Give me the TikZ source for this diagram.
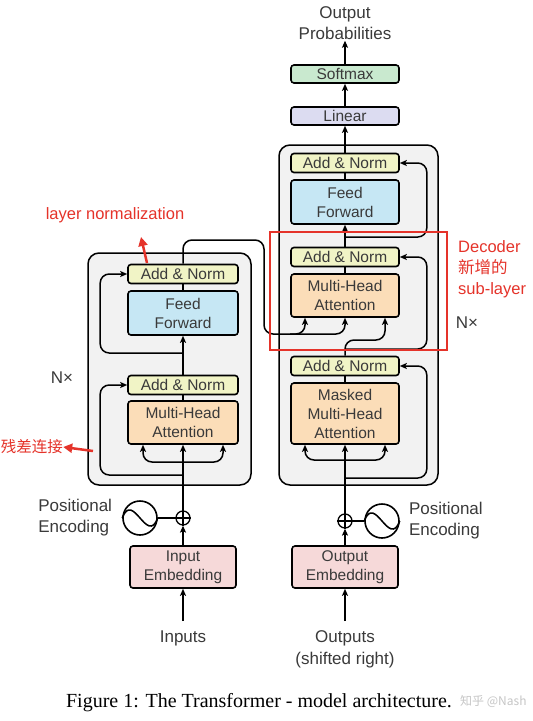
\documentclass[tikz,border=0pt]{standalone}
\usepackage{fontspec}
\setmainfont{Liberation Serif}
\setsansfont{Liberation Sans}
\newfontfamily\cjk{Noto Sans CJK SC}
\usetikzlibrary{arrows.meta,positioning}

\definecolor{normclr}{HTML}{F1F4C6}
\definecolor{ffclr}{HTML}{C6E7F4}
\definecolor{attclr}{HTML}{FBDDB8}
\definecolor{embclr}{HTML}{F6D9D9}
\definecolor{linclr}{HTML}{DCDCF1}
\definecolor{smclr}{HTML}{C9E9CF}
\definecolor{stackclr}{HTML}{F2F2F2}
\definecolor{txtclr}{HTML}{3A3A3A}
\definecolor{annclr}{HTML}{E5332A}

\begin{document}
\begin{tikzpicture}[x=1pt, y=-1pt,
  lyr/.style={draw, line width=1.6pt, rounded corners=3pt, minimum width=110pt,
    inner sep=0pt, align=center, text=txtclr,
    font=\sffamily\fontsize{15.5}{19}\selectfont},
  nrm/.style={lyr, fill=normclr, minimum height=19pt},
  ff/.style={lyr, fill=ffclr, minimum height=44pt},
  att/.style={lyr, fill=attclr, minimum height=43pt},
  emb/.style={lyr, fill=embclr, minimum height=42pt, minimum width=106pt},
  stk/.style={draw, line width=1.5pt, rounded corners=11pt, fill=stackclr},
  pe/.style={circle, draw, line width=1.6pt, minimum size=34pt, inner sep=0pt},
  sum/.style={circle, draw, line width=1.3pt, minimum size=14pt, inner sep=0pt},
  lbl/.style={text=txtclr, align=center, inner sep=1pt,
    font=\sffamily\fontsize{17}{21}\selectfont},
  ln/.style={line width=1.5pt},
  arr/.style={ln, -{Stealth[length=7pt, width=6pt, inset=1.5pt]}},
  fork/.style={ln, rounded corners=9pt,
    {Stealth[length=7pt, width=6pt, inset=1.5pt]}-{Stealth[length=7pt, width=6pt, inset=1.5pt]}},
  res/.style={arr, rounded corners=9pt},
  ann/.style={text=annclr, align=left, inner sep=0pt,
    font=\sffamily\fontsize{16.5}{21}\selectfont},
  annarr/.style={annclr, line width=2.5pt, -{Triangle[length=9pt, width=9pt]}}]

\fill[white] (0,0) rectangle (533,721);
\useasboundingbox (0,0) rectangle (533,721);

% --- Stacks ---
\node[stk, minimum width=163pt, minimum height=232pt] (encStk) at (169.5,369) {};
\node[stk, minimum width=159pt, minimum height=340pt] (decStk) at (358.5,315) {};

% --- Encoder ---
\node[nrm] (encN2) at (183,274) {Add \& Norm};
\node[ff] (encFF) at (183,313) {Feed\\Forward};
\node[nrm] (encN1) at (183,385) {Add \& Norm};
\node[att] (encMHA) at (183,422.5) {Multi-Head\\Attention};
\node[emb] (inEmb) at (183,567) {Input\\Embedding};
\node[pe] (encPE) at (140,518) {};
\node[sum] (encSum) at (183,518) {};
\node[lbl, align=left, left=9pt of encPE] (encPEtxt) {Positional\\Encoding};
\node[lbl] (inTxt) at (183,638) {Inputs};
\node[lbl] (encNx) at (62,378) {N×};

% --- Decoder ---
\node[nrm, minimum width=108pt] (decN3) at (345,163) {Add \& Norm};
\node[ff, minimum width=108pt] (decFF) at (345,202) {Feed\\Forward};
\node[nrm, minimum width=108pt] (decN2) at (345,257) {Add \& Norm};
\node[att, minimum width=108pt] (decMHA) at (345,295.5) {Multi-Head\\Attention};
\node[nrm, minimum width=108pt] (decN1) at (345,366) {Add \& Norm};
\node[att, minimum width=108pt, minimum height=61pt] (decMMHA) at (345,413.5)
  {Masked\\Multi-Head\\Attention};
\node[emb] (outEmb) at (345,567) {Output\\Embedding};
\node[pe] (decPE) at (382,521) {};
\node[sum] (decSum) at (345,521) {};
\node[lbl, align=left, right=8pt of decPE] (decPEtxt) {Positional\\Encoding};
\node[lbl, font=\sffamily\fontsize{17}{22}\selectfont] (outTxt) at (345,649)
  {Outputs\\(shifted right)};
\node[lbl] (decNx) at (467,323) {N×};

% --- Output head ---
\node[lyr, fill=linclr, minimum width=108pt, minimum height=18pt] (linear) at (345,116) {Linear};
\node[lyr, fill=smclr, minimum width=108pt, minimum height=18pt] (softmax) at (345,74) {Softmax};
\node[lbl] (outProb) at (345,23) {Output\\Probabilities};

% --- Sums and sine waves ---
\draw[ln] (encSum.north) -- (encSum.south) (encSum.west) -- (encSum.east);
\draw[ln] (decSum.north) -- (decSum.south) (decSum.west) -- (decSum.east);
\draw[ln] (encPE.west) .. controls +(11,-28) and +(-11,28) .. (encPE.east);
\draw[ln] (decPE.west) .. controls +(11,-28) and +(-11,28) .. (decPE.east);
\draw[ln] (encPE) -- (encSum);
\draw[ln] (decPE) -- (decSum);

% --- Encoder connectors ---
\coordinate (encRes1) at (183,475);
\coordinate (encFork) at (183,462);
\coordinate (encRes2) at (183,353);
\coordinate (encTop) at (183,240);
\coordinate (encDrop) at (264,334);
\coordinate (kvFork) at (290,334);

\draw[arr, shorten <=8pt] (inTxt.north) -- (inEmb.south);
\draw[arr] (inEmb.north) -- (encSum.south);
\draw[arr] (encSum.north) -- (encMHA.south);
\draw[fork] ([xshift=-40pt]encMHA.south) |- (encFork) -| ([xshift=40pt]encMHA.south);
\draw[res] (encRes1) -| ([xshift=-27pt]encN1.west) -- (encN1.west);
\draw[ln] (encMHA.north) -- (encN1.south);
\draw[arr] (encN1.north) -- (encFF.south);
\draw[res] (encRes2) -| ([xshift=-27pt]encN2.west) -- (encN2.west);
\draw[ln] (encFF.north) -- (encN2.south);
\draw[res] (encN2.north) -- (encTop) -| (encDrop) -| (decMHA.south);
\draw[res] (kvFork) -| ([xshift=-40pt]decMHA.south);

% --- Decoder connectors ---
\coordinate (decRes1) at (345,478);
\coordinate (decFork) at (345,460);
\coordinate (decRes2) at (345,349);
\coordinate (qBend) at (345,340);
\coordinate (decRes3) at (345,237);

\draw[arr, shorten <=8pt] (outTxt.north) -- (outEmb.south);
\draw[arr] (outEmb.north) -- (decSum.south);
\draw[arr] (decSum.north) -- (decMMHA.south);
\draw[fork] ([xshift=-40pt]decMMHA.south) |- (decFork) -| ([xshift=40pt]decMMHA.south);
\draw[res] (decRes1) -| ([xshift=27pt]decN1.east) -- (decN1.east);
\draw[ln] (decMMHA.north) -- (decN1.south);
\draw[res] (decN1.north) -- (qBend) -| ([xshift=40pt]decMHA.south);
\draw[res] (decRes2) -| ([xshift=27pt]decN2.east) -- (decN2.east);
\draw[ln] (decMHA.north) -- (decN2.south);
\draw[arr] (decN2.north) -- (decFF.south);
\draw[res] (decRes3) -| ([xshift=27pt]decN3.east) -- (decN3.east);
\draw[ln] (decFF.north) -- (decN3.south);
\draw[arr] (decN3.north) -- (linear.south);
\draw[arr] (linear.north) -- (softmax.south);
\draw[arr] (softmax.north) -- (outProb.south);

% --- Red notes ---
\draw[annclr, line width=2pt] (270,232) rectangle (447,350);
\node[ann, anchor=west] (newTxt) at (458,269) {Decoder\\{\cjk 新增的}\\sub-layer};
\node[ann] (lnTxt) at (115,215) {layer normalization};
\coordinate (lnTail) at (147,263);
\coordinate (lnTip) at (141,237);
\draw[annarr] (lnTail) -- (lnTip);
\node[ann, font=\cjk\fontsize{15.5}{19}\selectfont] (resTxt) at (32,447) {残差连接};
\coordinate (resTail) at (93,451);
\draw[annarr] (resTail) -- (resTxt.east);

% --- Caption ---
\node[font=\fontsize{20}{24}\selectfont] (cap) at (259,703)
  {Figure 1: The Transformer - model architecture.};
\node[text=gray!45, anchor=west, inner sep=0pt, font=\cjk\fontsize{12}{14}\selectfont] (wm)
  at (460,701) {知乎 @Nash};

\end{tikzpicture}
\end{document}
